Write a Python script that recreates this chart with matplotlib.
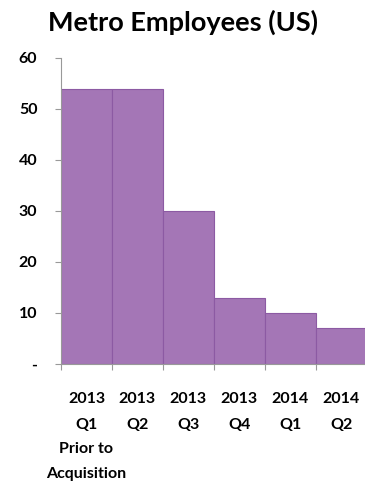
import matplotlib.pyplot as plt

# data
quarters = ['2013\nQ1', '2013\nQ2', '2013\nQ3', '2013\nQ4', '2014\nQ1', '2014\nQ2']
note = 'Prior to\nAcquisition'
employees = [54, 54, 30, 13, 10, 7]
yticks = [0, 10, 20, 30, 40, 50, 60]
ytick_labels = ['-', '10', '20', '30', '40', '50', '60']

plt.rcParams['font.family'] = ['Lato', 'DejaVu Sans']

fig = plt.figure(figsize=(3.65, 4.87), dpi=100)
ax = fig.add_axes([0.167, 0.2526, 0.838, 0.6284])

pos = range(len(employees))
ax.bar(pos, employees, width=1.0, color='#a476b6',
       edgecolor='#8c5aa3', linewidth=0.8)

ax.set_xlim(-0.5, len(employees) - 0.5)
ax.set_ylim(0, 60)

ax.set_yticks(yticks)
ax.set_yticklabels(ytick_labels, fontsize=11.5, fontweight='bold')
ax.tick_params(axis='y', length=4, width=0.8, color='#999999', pad=13)

ax.set_xticks(list(pos))
ax.set_xticklabels(quarters, fontsize=11.5, fontweight='bold',
                   va='top', linespacing=2.1)
ax.tick_params(axis='x', length=0, pad=20)
ax.set_xticks([p + 0.5 for p in pos[:-1]] + [-0.5], minor=True)
ax.tick_params(axis='x', which='minor', length=4, width=0.8,
               color='#999999')

# note under the first quarter
ax.annotate(note, xy=(0, 0), xycoords=('data', 'axes fraction'),
            xytext=(0, -56), textcoords='offset points',
            ha='center', va='top', fontsize=11.5, fontweight='bold',
            linespacing=2.0)

for side in ['top', 'right']:
    ax.spines[side].set_visible(False)
for side in ['left', 'bottom']:
    ax.spines[side].set_color('#999999')
    ax.spines[side].set_linewidth(0.8)

fig.text(0.5, 0.955, 'Metro Employees (US)', ha='center', va='center',
         fontsize=19.5, fontweight='bold')

fig.savefig('out.png', dpi=100)
